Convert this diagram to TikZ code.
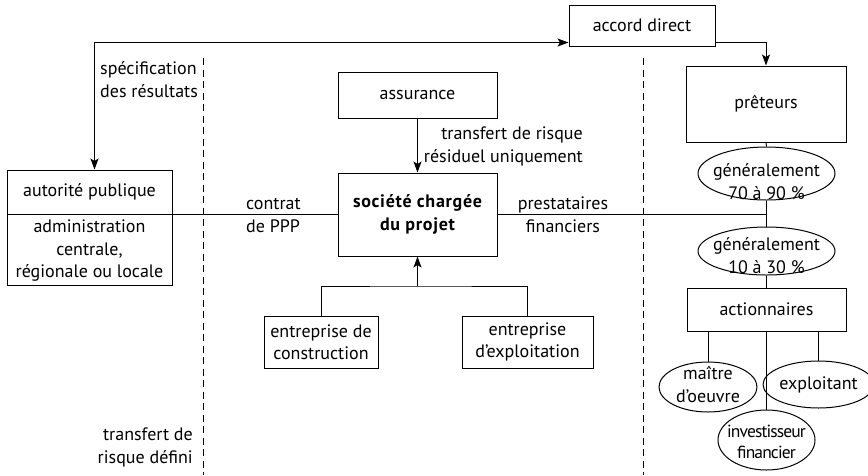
\documentclass[tikz,border=0pt]{standalone}
\usepackage{fontspec}
\setmainfont{PT Sans}
\usetikzlibrary{arrows.meta,shapes.geometric,calc}
\begin{document}
\begin{tikzpicture}[x=1pt,y=-1pt,
  every node/.style={font=\fontsize{18}{22.5}\selectfont, inner sep=0pt},
  box/.style={draw, rectangle, line width=1pt},
  ell/.style={draw, ellipse, line width=1pt},
  conn/.style={line width=1pt},
  arr/.style={conn, -{Stealth[length=11pt,width=8pt,inset=2.5pt]}},
  dsh/.style={line width=1pt, dash pattern=on 7pt off 4.5pt}]
\useasboundingbox (0,0) rectangle (868,475);

% boxes
\node[box, minimum width=146pt, minimum height=41pt] (accord) at (642,25.5) {accord direct};
\node[box, minimum width=160pt, minimum height=76pt] (preteurs) at (766,104) {prêteurs};
\node[box, minimum width=159pt, minimum height=46pt] (assurance) at (417.5,95) {assurance};
\node[box, minimum width=159pt, minimum height=83pt, align=center, font=\fontsize{18}{22.5}\selectfont\bfseries\addfontfeatures{LetterSpace=4}] (societe) at (417.5,214.5) {société chargée\\du projet};
\node[box, minimum width=165pt, minimum height=115pt] (autorite) at (89.5,227.5) {};
\node (autt) at (89.5,192) {autorité publique};
\node[align=center] (autb) at (89.5,251) {administration\\centrale,\\régionale ou locale};
\node[box, minimum width=114pt, minimum height=52pt, align=center] (constr) at (321,342) {entreprise de\\construction};
\node[box, minimum width=131pt, minimum height=52pt, align=center] (exploit) at (527.5,342) {entreprise\\d’exploitation};
\node[box, minimum width=159pt, minimum height=43pt] (action) at (766.5,309.5) {actionnaires};

% ellipses
\node[ell, minimum width=137pt, minimum height=53pt] (e1) at (766.5,173.5) {};
\node[anchor=base, align=center] (e1t) at (766.5,199) {généralement\\70 à 90 \%};
\node[ell, minimum width=137pt, minimum height=48pt] (e2) at (766.5,251) {};
\node[anchor=base, align=center] (e2t) at (766.5,273) {généralement\\10 à 30 \%};
\node[ell, minimum width=98pt, minimum height=50pt] (maitre) at (708,387) {};
\node[anchor=base, align=center] (maitret) at (708,402) {maître\\d’oeuvre};
\node[ell, minimum width=96pt, minimum height=47pt] (exploitant) at (818.5,384.5) {exploitant};
\node[ell, minimum width=97pt, minimum height=60pt] (invest) at (766.5,440) {};
\node[anchor=base, align=center, font=\fontsize{17.5}{21}\selectfont\addfontfeatures{LetterSpace=-5}] (investt) at (766.5,458) {investisseur\\financier};

% connectors
\draw[conn, {Stealth[length=11pt,width=8pt,inset=2.5pt]}-{Stealth[length=11pt,width=8pt,inset=2.5pt]}]
  ([xshift=5pt]autorite.north) |- ($(accord.south west)+(0,-4)$);
\draw[arr] ($(accord.south east)+(0,-4)$) -| (preteurs.north);
\draw[conn] (preteurs.south) -- (e1.north);
\draw[conn] (e1.south) -- (e2.north);
\draw[conn] (e2.south) -- (action.north);
\draw[conn] (societe.east) -- (societe.east -| e1.south);
\draw[conn] (autorite.west |- societe.west) -- (societe.west);
\draw[arr] (assurance.south) -- (societe.north);
\coordinate (jn) at (417.5,286);
\draw[conn] (constr.north) |- (jn) -| (exploit.north);
\draw[arr] (jn) -- (societe.south);
\draw[conn] (action.south -| maitre.north) -- (maitre.north);
\draw[conn] (action.south -| invest.north) -- (invest.north);
\draw[conn] (action.south -| exploitant.north) -- (exploitant.north);

% dashed separators
\coordinate (d1t) at (203,58); \coordinate (d1b) at (203,475);
\coordinate (d2t) at (643,58); \coordinate (d2b) at (643,475);
\draw[dsh] (d1t) -- (d1b);
\draw[dsh] (d2t) -- (d2b);

% labels
\node[anchor=base west, align=left] (spec) at (100,97) {spécification\\des résultats};
\node[anchor=base west, align=left] (contrat) at (246,232) {contrat\\de PPP};
\node[anchor=base, align=center] (prest) at (563,232) {prestataires\\financiers};
\node[anchor=base east, align=right] (trr) at (583,162) {transfert de risque\\résiduel uniquement};
\node[anchor=base east, align=right] (trd) at (193,463) {transfert de\\risque défini};
\end{tikzpicture}
\end{document}
